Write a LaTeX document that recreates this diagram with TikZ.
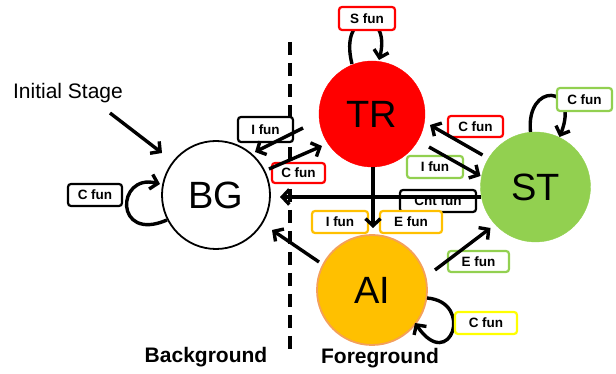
\documentclass[tikz,border=0pt]{standalone}
\usepackage{fontspec}
\setmainfont{Liberation Sans}
\usetikzlibrary{arrows.meta,calc}
\definecolor{cred}{RGB}{255,0,0}
\definecolor{cgreen}{RGB}{146,208,80}
\definecolor{corange}{RGB}{255,192,0}
\definecolor{coborder}{RGB}{244,160,90}
\definecolor{cyellow}{RGB}{255,255,0}
\begin{document}
\begin{tikzpicture}[x=1pt,y=1pt,
  state/.style={circle,minimum size=#1,inner sep=0pt,font=\fontsize{38}{40}\selectfont},
  fbox/.style={draw=#1,line width=2.2pt,rounded corners=3pt,fill=white,inner sep=0pt,font=\fontsize{13.5}{15}\selectfont\bfseries},
  arr/.style={line width=3.4pt,-{Straight Barb[length=7pt,width=15pt]}},
  lbl/.style={font=\fontsize{21}{24}\selectfont},
  bold/.style={font=\fontsize{21}{24}\selectfont\bfseries},
]
\useasboundingbox (0,0) rectangle (616,374);
% states
\node[state=108pt,draw=black,line width=1.8pt,fill=white] (BG) at (216,179) {BG};
\node[state=106pt,draw=cred,fill=cred] (TR) at (372,260) {TR};
\node[state=110pt,draw=cgreen,fill=cgreen] (ST) at (535.5,187) {ST};
\node[state=110pt,draw=coborder,line width=1.8pt,fill=corange] (AI) at (372,84) {AI};
% self loops
\draw[arr] ($(BG)+(-49,-25)$) .. controls ($(BG)+(-102,-48)$) and ($(BG)+(-100,22)$) .. ($(BG)+(-56,11)$);
\draw[arr] ($(TR)+(-20,50)$) .. controls ($(TR)+(-34,105)$) and ($(TR)+(20,105)$) .. ($(TR)+(7,54)$);
\draw[arr] ($(ST)+(-5,55)$) .. controls ($(ST)+(-10,105)$) and ($(ST)+(45,103)$) .. ($(ST)+(24,50)$);
\draw[arr] ($(AI)+(55,-8)$) .. controls ($(AI)+(103,-12)$) and ($(AI)+(78,-84)$) .. ($(AI)+(43,-33)$);
% dashed divider
\coordinate (dtop) at (290,332);
\coordinate (dbot) at (290,22);
\draw[line width=3.2pt,dash pattern=on 13pt off 8pt] (dtop) -- (dbot);
% labels
\node[lbl] (init) at (68,281) {Initial Stage};
\node[bold] (bgtxt) at (206,17) {Background};
\node[bold] (fgtxt) at (380,16) {Foreground};
% function boxes
\node[fbox=black,minimum width=54pt,minimum height=22pt] (cfunbg) at (95,179) {C fun};
\node[fbox=black,minimum width=55pt,minimum height=25pt] (ifunbg) at (265.5,244.5) {I fun};
\node[fbox=cred,minimum width=53pt,minimum height=20pt] (cfuntr) at (298.5,201) {C fun};
\node[fbox=black,minimum width=76pt,minimum height=22pt] (cnt) at (438,173) {Cnt fun};
\node[fbox=corange,minimum width=56pt,minimum height=22pt] (ifunai) at (340,152) {I fun};
\node[fbox=corange,minimum width=62pt,minimum height=22pt] (efunai) at (411,152) {E fun};
\node[fbox=cgreen,minimum width=56pt,minimum height=22pt] (ifunst) at (435,207) {I fun};
\node[fbox=cred,minimum width=55pt,minimum height=21pt] (cfunst) at (475.5,247.5) {C fun};
\node[fbox=cgreen,minimum width=61pt,minimum height=21pt] (efunst) at (478.5,112.5) {E fun};
\node[fbox=cred,minimum width=56pt,minimum height=23pt] (sfun) at (367,355.5) {S fun};
\node[fbox=cgreen,minimum width=55pt,minimum height=23pt] (cfunst2) at (584.5,274.5) {C fun};
\node[fbox=cyellow,minimum width=62pt,minimum height=22pt] (cfunai) at (486,51) {C fun};
% straight connectors
\draw[arr] ($(init)+(42,-20)$) -- ($(BG)+(-54,42)$);
\draw[arr] ($(TR)+(-69,-14)$) -- ($(BG)+(39,43)$);
\draw[arr] ($(BG)+(53,26)$) -- ($(TR)+(-50,-32)$);
\draw[arr] ($(ST)+(-55,-10)$) -- ($(BG)+(64,-2)$);
\draw[arr] ($(TR.south)+(1,0)$) -- ($(AI)+(1,62)$);
\draw[arr] ($(TR)+(57,-33)$) -- ($(ST)+(-55,11)$);
\draw[arr] ($(ST)+(-53,32)$) -- ($(TR)+(58,-11)$);
\draw[arr] ($(AI)+(63,20)$) -- ($(ST)+(-45,-41)$);
\draw[arr] ($(AI)+(-53,28)$) -- ($(BG)+(56,-35)$);
\end{tikzpicture}
\end{document}
